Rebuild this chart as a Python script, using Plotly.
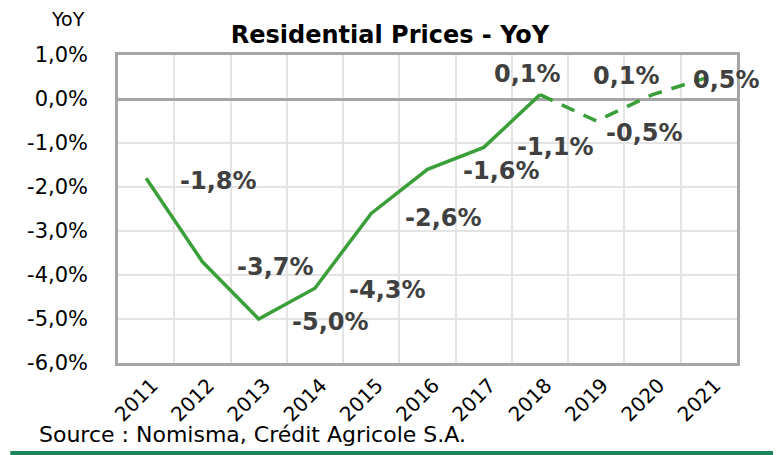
import plotly.graph_objects as go

COLORS = {
    "line": "#3a9f38",
    "label": "#404040",
    "text": "#000000",
    "frame": "#a6a6a6",
    "grid": "#e4e4e4",
    "rule": "#1a875c",
}

YEARS = ["2011", "2012", "2013", "2014", "2015", "2016",
         "2017", "2018", "2019", "2020", "2021"]
YOY = [-1.8, -3.7, -5.0, -4.3, -2.6, -1.6, -1.1, 0.1, -0.5, 0.1, 0.5]
VALUE_LABELS = ["-1,8%", "-3,7%", "-5,0%", "-4,3%", "-2,6%", "-1,6%",
                "-1,1%", "0,1%", "-0,5%", "0,1%", "0,5%"]
Y_TICKS = [1, 0, -1, -2, -3, -4, -5, -6]
Y_TICK_TEXT = ["1,0%", "0,0%", "-1,0%", "-2,0%", "-3,0%", "-4,0%", "-5,0%", "-6,0%"]
LAST_ACTUAL = 7  # 2018: solid up to here, dashed after

# label placement (pixels from the point: right, down)
LABEL_SHIFT = [(72, 3), (73, 5), (72, 3), (73, 2), (72, 5), (74, 2),
               (72, 0), (-13, -21), (48, 12), (-26, -19), (18, 3)]

FONT = "DejaVu Sans"

fig = go.Figure()
fig.add_trace(go.Scatter(
    x=YEARS[:LAST_ACTUAL + 1],
    y=YOY[:LAST_ACTUAL + 1],
    mode="lines",
    line=dict(color=COLORS["line"], width=3.5),
    hoverinfo="skip",
))
fig.add_trace(go.Scatter(
    x=YEARS[LAST_ACTUAL:],
    y=YOY[LAST_ACTUAL:],
    mode="lines",
    line=dict(color=COLORS["line"], width=3.5, dash="14px,10px"),
    hoverinfo="skip",
))

# category axis: annotations take the category index
for i, (val, txt, (dx, dy)) in enumerate(zip(YOY, VALUE_LABELS, LABEL_SHIFT)):
    fig.add_annotation(
        x=i, y=val, text=txt, showarrow=False,
        xanchor="center", yanchor="middle",
        xshift=dx, yshift=-dy,
        font=dict(family=FONT, size=24, color=COLORS["label"], weight="bold"),
    )

fig.add_annotation(
    x=-0.081, y=1.117, xref="paper", yref="paper", text="YoY", showarrow=False,
    xanchor="center", yanchor="middle",
    font=dict(family=FONT, size=19, color=COLORS["text"]),
)
fig.add_annotation(
    x=-0.131, y=-0.232, xref="paper", yref="paper",
    text="Source : Nomisma, Crédit Agricole S.A.", showarrow=False,
    xanchor="left", yanchor="middle",
    font=dict(family=FONT, size=22, color=COLORS["text"]),
)
fig.add_shape(
    type="line", xref="paper", yref="paper",
    x0=-0.174, x1=1.075, y0=-0.292, y1=-0.292,
    line=dict(color=COLORS["rule"], width=4),
)

# the page adds an 8px body margin, so the figure is 8px smaller
fig.update_layout(
    width=773,
    height=447,
    paper_bgcolor="white",
    plot_bgcolor="white",
    showlegend=False,
    margin=dict(l=110, r=44, t=47, b=92),
    title=dict(
        text="Residential Prices - YoY",
        x=(390 - 8) / 773, xref="container", xanchor="center",
        y=1 - (35 - 8) / 447, yref="container", yanchor="middle",
        font=dict(family=FONT, size=24, color=COLORS["text"], weight="bold"),
    ),
    xaxis=dict(
        type="category",
        range=[-0.5, 10.5],
        tickson="boundaries",
        showgrid=True, gridcolor=COLORS["grid"], gridwidth=2,
        showline=True, linecolor=COLORS["frame"], linewidth=2.5, mirror=True,
        ticks="", tickangle=-45, ticklabelstandoff=0, ticklabelshift=6,
        tickfont=dict(family=FONT, size=20, color=COLORS["text"]),
    ),
    yaxis=dict(
        range=[-6, 1],
        tickvals=Y_TICKS, ticktext=Y_TICK_TEXT,
        showgrid=True, gridcolor=COLORS["grid"], gridwidth=2,
        zeroline=True, zerolinecolor=COLORS["frame"], zerolinewidth=2.5,
        showline=True, linecolor=COLORS["frame"], linewidth=2.5, mirror=True,
        ticks="", ticklabelstandoff=23,
        tickfont=dict(family=FONT, size=21, color=COLORS["text"]),
    ),
)

fig.write_html("out.html")
